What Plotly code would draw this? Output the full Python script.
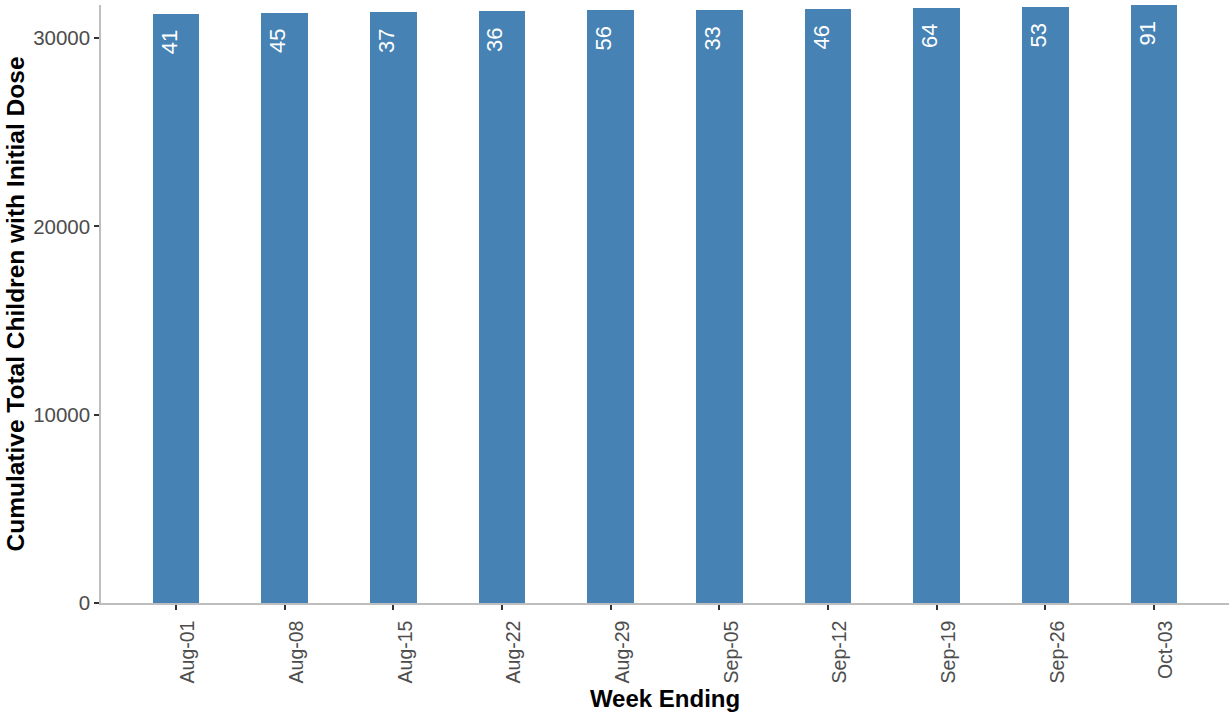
import plotly.graph_objects as go

weeks = ["Aug-01", "Aug-08", "Aug-15", "Aug-22", "Aug-29",
         "Sep-05", "Sep-12", "Sep-19", "Sep-26", "Oct-03"]
cumulative = [31300, 31345, 31382, 31418, 31474, 31507, 31553, 31617, 31670, 31761]
weekly_new = [41, 45, 37, 36, 56, 33, 46, 64, 53, 91]
y_ticks = [0, 10000, 20000, 30000]

FONT = "Liberation Sans, Arial, sans-serif"

fig = go.Figure()
fig.add_trace(go.Bar(
    x=weeks, y=cumulative, width=0.43,
    marker=dict(color="#4682b4", line=dict(width=0)),
    hoverinfo="skip",
))

for w, c, n in zip(weeks, cumulative, weekly_new):
    fig.add_annotation(
        x=w, y=c, text=str(n), showarrow=False, textangle=-90,
        xanchor="center", yanchor="middle", xshift=-7, yshift=-28.5,
        font=dict(family=FONT, size=22, color="white"),
    )

fig.update_layout(
    width=1229, height=713,
    margin=dict(l=101, r=0, t=5, b=110, autoexpand=False),
    paper_bgcolor="white", plot_bgcolor="white",
    showlegend=False, bargap=0,
    font=dict(family=FONT),
)
fig.update_xaxes(
    type="category", range=[-0.69, 9.69], automargin=False,
    showgrid=False, zeroline=False,
    showline=True, linecolor="#bebebe", linewidth=1.5,
    ticks="outside", ticklen=5, tickcolor="#333333", tickwidth=1.5,
    tickangle=-90, ticklabelshift=12, ticklabelstandoff=3,
    tickfont=dict(family=FONT, size=19.5, color="#4d4d4d"),
    title=dict(text="<b>Week Ending</b>", standoff=8,
               font=dict(family=FONT, size=24, color="black")),
)
fig.update_yaxes(
    range=[0, max(cumulative)], automargin=False,
    tickvals=y_ticks, ticktext=[str(v) for v in y_ticks],
    showgrid=False, zeroline=False,
    showline=True, linecolor="#bebebe", linewidth=1.5,
    ticks="outside", ticklen=5, tickcolor="#333333", tickwidth=1.5,
    tickfont=dict(family=FONT, size=20.5, color="#4d4d4d"),
    title=dict(text="<b>Cumulative Total Children with Initial Dose</b>", standoff=2,
               font=dict(family=FONT, size=24.5, color="black")),
)

fig.write_html(
    "out.html",
    config={"displayModeBar": False},
    post_script="document.body.style.margin='0';document.body.style.overflow='hidden';",
)
